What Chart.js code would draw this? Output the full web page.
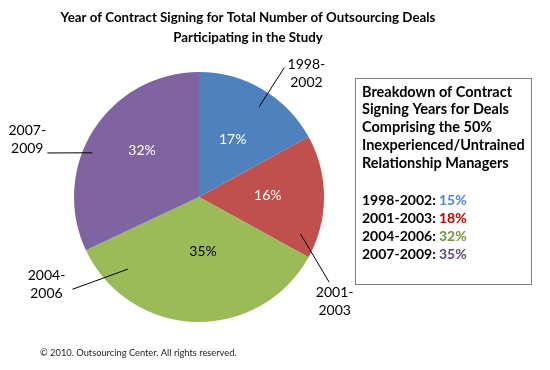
<!DOCTYPE html>
<html>
<head>
<meta charset="utf-8">
<script src="https://cdn.jsdelivr.net/npm/chart.js@4/dist/chart.umd.min.js"></script>
<style>
  html, body { margin: 0; padding: 0; background: #fff; }
  canvas { display: block; }
</style>
</head>
<body>
<canvas id="pieChart" width="550" height="370"></canvas>
<script>
// data
const periods = ['1998-2002', '2001-2003', '2004-2006', '2007-2009'];
const dealShares = [17, 16, 35, 32];
const sliceColors = ['#4F81BD', '#C0504D', '#9BBB59', '#8064A2'];
const inexperiencedShares = [15, 18, 32, 35];
const shareColors = ['#4A86D4', '#C00000', '#77933C', '#5F497A'];

const titleLines = ['Year of Contract Signing for Total Number of Outsourcing Deals', 'Participating in the Study'];
const boxLines = ['Breakdown of Contract', 'Signing Years for Deals', 'Comprising the 50%', 'Inexperienced/Untrained', 'Relationship Managers'];
const copyright = '\u00A9 2010. Outsourcing Center. All rights reserved.';

// position of the labels around the pie (angle in degrees from top, distance as share of radius)
const insideLabel = [
    { da: 0, r: 0.53 },
    { da: -1, r: 0.55 },
    { da: -6, r: 0.44 },
    { da: 7, r: 0.59 }
];
const callouts = [
    { inner: [33.7, 0.867], outer: [33.4, 1.24], text: [41, 1.31] },
    { inner: [110, 0.864], outer: [123.2, 1.245], text: [127.6, 1.37] },
    { inner: [224.6, 0.81], outer: [233.9, 1.253], text: [240.2, 1.406] },
    { inner: [292.5, 0.924], outer: [286.2, 1.263], text: [288.4, 1.448] }
];

const FONT = 'Lato, "Open Sans", sans-serif';

const extrasPlugin = {
    id: 'extras',
    afterDraw(chart) {
        const ctx = chart.ctx;
        const meta = chart.getDatasetMeta(0);
        const first = meta.data[0];
        const cx = first.x, cy = first.y, R = first.outerRadius;
        const polar = (deg, f) => {
            const a = deg * Math.PI / 180;
            return [cx + Math.sin(a) * f * R, cy - Math.cos(a) * f * R];
        };

        ctx.save();
        // title
        ctx.fillStyle = '#000';
        ctx.textAlign = 'center';
        ctx.textBaseline = 'middle';
        ctx.font = 'bold 13.3px ' + FONT;
        ctx.fillText(titleLines[0], 248, 18);
        ctx.fillText(titleLines[1], 248, 38);

        // labels inside slices
        meta.data.forEach((arc, i) => {
            const mid = ((arc.startAngle + arc.endAngle) / 2) * 180 / Math.PI + 90;
            const p = polar(mid + insideLabel[i].da, insideLabel[i].r);
            ctx.font = '14px ' + FONT;
            ctx.fillStyle = i === 2 ? '#000' : '#fff';
            ctx.fillText(dealShares[i] + '%', p[0], p[1]);
        });

        // callouts with leader lines
        ctx.strokeStyle = '#000';
        ctx.lineWidth = 1;
        callouts.forEach((c, i) => {
            const a = polar(c.inner[0], c.inner[1]);
            const b = polar(c.outer[0], c.outer[1]);
            ctx.beginPath();
            ctx.moveTo(a[0], a[1]);
            ctx.lineTo(b[0], b[1]);
            ctx.stroke();
            const t = polar(c.text[0], c.text[1]);
            const parts = periods[i].split('-');
            ctx.fillStyle = '#000';
            ctx.font = '14px ' + FONT;
            ctx.fillText(parts[0] + '-', t[0], t[1] - 9);
            ctx.fillText(parts[1], t[0], t[1] + 9);
        });

        // text box
        ctx.strokeStyle = '#808080';
        ctx.strokeRect(355.5, 78.5, 176, 206);
        ctx.textAlign = 'left';
        ctx.font = 'bold 14.5px ' + FONT;
        ctx.fillStyle = '#000';
        boxLines.forEach((line, i) => ctx.fillText(line, 362, 92 + i * 17.8));
        ctx.font = 'bold 14px ' + FONT;
        periods.forEach((p, i) => {
            const y = 200 + i * 18;
            ctx.fillStyle = '#000';
            ctx.fillText(p + ':', 362, y);
            ctx.fillStyle = shareColors[i];
            ctx.fillText(inexperiencedShares[i] + '%', 439, y);
        });

        // copyright
        ctx.fillStyle = '#222';
        ctx.font = '9.3px ' + FONT;
        ctx.fillText(copyright, 40, 353);
        ctx.restore();
    }
};

new Chart(document.getElementById('pieChart'), {
    type: 'pie',
    data: {
        labels: periods,
        datasets: [{
            data: dealShares,
            backgroundColor: sliceColors,
            borderWidth: 0
        }]
    },
    options: {
        responsive: false,
        animation: false,
        layout: {
            padding: { left: 74, right: 226, top: 72, bottom: 48 }
        },
        plugins: {
            legend: { display: false },
            tooltip: { enabled: false },
            title: { display: false }
        }
    },
    plugins: [extrasPlugin]
});
</script>
</body>
</html>
